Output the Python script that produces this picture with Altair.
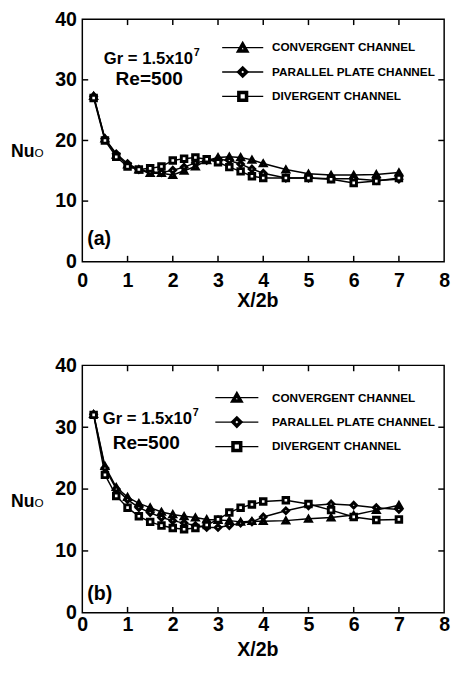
import altair as alt
import pandas as pd

# ---------------- data ----------------
X = [0.25, 0.5, 0.75, 1.0, 1.25, 1.5, 1.75, 2.0, 2.25, 2.5, 2.75, 3.0,
     3.25, 3.5, 3.75, 4.0, 4.5, 5.0, 5.5, 6.0, 6.5, 7.0]

SERIES = ["CONVERGENT CHANNEL", "PARALLEL PLATE CHANNEL", "DIVERGENT CHANNEL"]
SHAPES = ["triangle-up", "diamond", "square"]

conv_a = [27.3, 20.3, 17.6, 16.0, 15.2, 14.6, 14.6, 14.3, 15.0, 15.7, 16.7, 17.2,
          17.3, 17.2, 16.8, 16.2, 15.2, 14.5, 14.3, 14.3, 14.4, 14.7]
par_a = [27.3, 20.3, 17.8, 16.2, 15.2, 14.8, 14.7, 15.1, 15.6, 16.3, 16.7, 16.9,
         16.7, 16.1, 15.3, 14.6, 13.8, 13.8, 13.7, 13.7, 13.4, 13.6]
div_a = [27.0, 20.0, 17.3, 15.7, 15.2, 15.4, 15.7, 16.7, 17.0, 17.2, 16.9, 16.4,
         15.6, 14.9, 14.1, 13.8, 13.8, 13.8, 13.6, 13.0, 13.3, 13.8]

conv_b = [32.1, 23.7, 20.3, 18.7, 17.7, 17.0, 16.3, 15.9, 15.6, 15.4, 15.1, 15.0,
          14.9, 14.7, 14.8, 14.8, 14.9, 15.2, 15.4, 15.8, 16.6, 17.4]
par_b = [32.1, 23.4, 20.0, 18.3, 17.0, 16.2, 15.4, 14.9, 14.5, 14.1, 13.8, 13.8,
         14.1, 14.5, 14.7, 15.5, 16.5, 17.3, 17.6, 17.4, 17.0, 16.7]
div_b = [32.0, 22.3, 18.9, 17.0, 15.6, 14.7, 14.1, 13.7, 13.5, 13.7, 14.2, 15.1,
         16.2, 17.0, 17.5, 18.0, 18.2, 17.6, 16.6, 15.5, 15.0, 15.1]

X_TICKS = [0, 1, 2, 3, 4, 5, 6, 7, 8]
Y_TICKS = [0, 10, 20, 30, 40]
X_INNER = [1, 2, 3, 4, 5, 6, 7]
Y_INNER = [10, 20, 30]

FONT = "Liberation Sans, Arial, Helvetica, sans-serif"
W = 370

PANELS = [
    dict(vals=[conv_a, par_a, div_a], H=248, tag="(a)", tag_y=231, lab_pad=9, title_y=30,
         gr_x=22, gr_y=46, re_x=34, re_y=67, nu_y=141,
         leg_rows=[29, 54, 79], leg_x1=143, leg_x2=185, leg_m=164),
    dict(vals=[conv_b, par_b, div_b], H=253, tag="(b)", tag_y=240, lab_pad=2, title_y=28,
         gr_x=21, gr_y=60, re_x=31, re_y=86, nu_y=145,
         leg_rows=[33, 58, 83], leg_x1=136, leg_x2=180, leg_m=158),
]

DUMMY = alt.Data(values=[{"a": 1}])


def panel(p):
    H = p["H"]
    rows = []
    for name, vals in zip(SERIES, p["vals"]):
        for xv, yv in zip(X, vals):
            rows.append({"x": xv, "Nu": yv, "series": name})
    df = pd.DataFrame(rows)

    xs = alt.Scale(domain=[0, 8], nice=False, zero=False)
    ys = alt.Scale(domain=[0, 40], nice=False, zero=False)

    x_enc = alt.X("x:Q", scale=xs, axis=alt.Axis(
        values=X_TICKS, format="d", labelPadding=p["lab_pad"], title="X/2b",
        titleX=179, titleY=p["title_y"], titleBaseline="top", labelFlush=False))
    y_enc = alt.Y("Nu:Q", scale=ys, axis=alt.Axis(
        values=Y_TICKS, format="d", labelPadding=6, title=None))

    lines = alt.Chart(df).mark_line(color="black", strokeWidth=1.5).encode(
        x=x_enc, y=y_enc, detail="series:N", order="x:Q")
    pts = alt.Chart(df).mark_point(filled=False, fill="white", fillOpacity=1, color="black",
                                   opacity=1, strokeWidth=3, size=32).encode(
        x=alt.X("x:Q", scale=xs), y=alt.Y("Nu:Q", scale=ys),
        shape=alt.Shape("series:N", scale=alt.Scale(domain=SERIES, range=SHAPES), legend=None))

    xt = pd.DataFrame({"x": X_INNER})
    yt = pd.DataFrame({"Nu": Y_INNER})
    tick_style = dict(color="black", strokeWidth=1.5)
    t_bottom = alt.Chart(xt).mark_rule(**tick_style).encode(
        x=alt.X("x:Q", scale=xs), y=alt.value(H), y2=alt.value(H - 6))
    t_top = alt.Chart(xt).mark_rule(**tick_style).encode(
        x=alt.X("x:Q", scale=xs), y=alt.value(0), y2=alt.value(6))
    t_left = alt.Chart(yt).mark_rule(**tick_style).encode(
        y=alt.Y("Nu:Q", scale=ys), x=alt.value(0), x2=alt.value(6))
    t_right = alt.Chart(yt).mark_rule(**tick_style).encode(
        y=alt.Y("Nu:Q", scale=ys), x=alt.value(W), x2=alt.value(W - 6))

    layers = [lines, pts, t_bottom, t_top, t_left, t_right]

    # legend
    for name, shape, ry in zip(SERIES, SHAPES, p["leg_rows"]):
        layers.append(alt.Chart(DUMMY).mark_rule(color="black", strokeWidth=1.3).encode(
            x=alt.value(p["leg_x1"]), x2=alt.value(p["leg_x2"]), y=alt.value(ry)))
        layers.append(alt.Chart(DUMMY).mark_point(shape=shape, filled=False, fill="white",
                                                  fillOpacity=1, color="black", opacity=1,
                                                  strokeWidth=3.6, size=62).encode(
            x=alt.value(p["leg_m"]), y=alt.value(ry)))
        layers.append(alt.Chart(DUMMY).mark_text(align="left", baseline="middle", font=FONT,
                                                 fontSize=12, fontWeight="bold",
                                                 color="black").encode(
            x=alt.value(194), y=alt.value(ry), text=alt.value(name)))

    def txt(s, x, y, size, weight="bold"):
        return alt.Chart(DUMMY).mark_text(align="left", baseline="alphabetic", font=FONT,
                                          fontSize=size, fontWeight=weight,
                                          color="black").encode(
            x=alt.value(x), y=alt.value(y), text=alt.value(s))

    layers += [
        txt("Gr = 1.5x10", p["gr_x"], p["gr_y"], 17),
        txt("7", p["gr_x"] + 92, p["gr_y"] - 8, 11),
        txt("Re=500", p["re_x"], p["re_y"], 19.5),
        txt(p["tag"], 5, p["tag_y"], 20),
        txt("Nu", -73, p["nu_y"], 18),
        txt("O", -49, p["nu_y"], 12, "normal"),
    ]
    return alt.layer(*layers).properties(width=W, height=H)


chart = alt.vconcat(panel(PANELS[0]), panel(PANELS[1]), spacing=106, bounds="flush").properties(
    padding={"left": 2, "top": -7, "right": 0, "bottom": 0}
).configure_view(stroke="black", strokeWidth=1.5).configure_axis(
    domain=False, ticks=False, tickSize=0, grid=False,
    labelFont=FONT, labelFontSize=20, labelFontWeight="bold", labelColor="black",
    titleFont=FONT, titleFontSize=20, titleFontWeight="bold", titleColor="black",
)

chart.save("out.html", embed_options={"renderer": "svg", "actions": False})
